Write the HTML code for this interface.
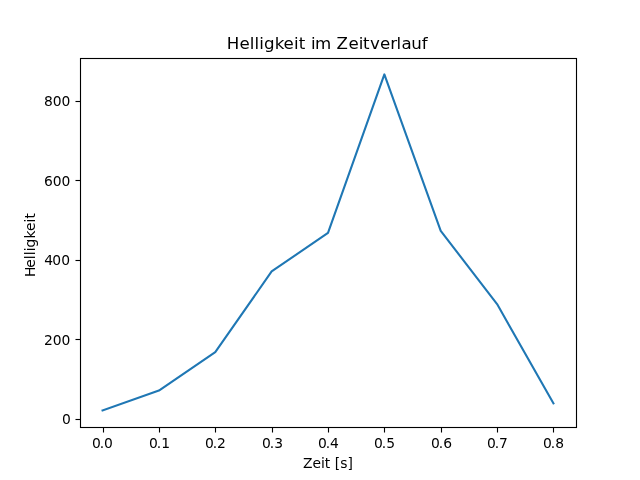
<!DOCTYPE html>
<html lang="de"><head><meta charset="utf-8"><title>Helligkeit im Zeitverlauf</title>
<style>
html,body{margin:0;padding:0;background:#fff;overflow:hidden}
svg{display:block}
text{font-family:"DejaVu Sans","Liberation Sans",sans-serif;fill:#000}
.t{font-size:13.889px}
.u{font-size:14px}
.h{font-size:16.667px}
</style></head><body>
<svg width="640" height="480" viewBox="0 0 640 480">
<rect width="640" height="480" fill="#fff"/>
<polyline points="102.55,410.40 158.91,390.56 215.27,352.18 271.64,271.45 328.00,232.88 384.36,74.40 440.73,230.89 497.09,304.06 553.45,403.40" fill="none" stroke="#1f77b4" stroke-width="2.083" stroke-linejoin="round" stroke-linecap="square"/>
<g fill="#000" fill-opacity="0.0549">
<rect x="79" y="58" width="3" height="370"/><rect x="575" y="58" width="3" height="370"/>
<rect x="80" y="57" width="497" height="3"/><rect x="80" y="426" width="497" height="3"/>
<rect x="102" y="428" width="3" height="4.5"/>
<rect x="158" y="428" width="3" height="4.5"/>
<rect x="214" y="428" width="3" height="4.5"/>
<rect x="271" y="428" width="3" height="4.5"/>
<rect x="327" y="428" width="3" height="4.5"/>
<rect x="383" y="428" width="3" height="4.5"/>
<rect x="440" y="428" width="3" height="4.5"/>
<rect x="496" y="428" width="3" height="4.5"/>
<rect x="552" y="428" width="3" height="4.5"/>
<rect x="75.5" y="418" width="4.5" height="3"/>
<rect x="75.5" y="338" width="4.5" height="3"/>
<rect x="75.5" y="259" width="4.5" height="3"/>
<rect x="75.5" y="179" width="4.5" height="3"/>
<rect x="75.5" y="100" width="4.5" height="3"/>
</g>
<g fill="#000">
<rect x="80" y="58" width="1" height="370"/><rect x="576" y="58" width="1" height="370"/>
<rect x="80" y="58" width="497" height="1"/><rect x="80" y="427" width="497" height="1"/>
<rect x="103" y="428" width="1" height="4.5"/>
<rect x="159" y="428" width="1" height="4.5"/>
<rect x="215" y="428" width="1" height="4.5"/>
<rect x="272" y="428" width="1" height="4.5"/>
<rect x="328" y="428" width="1" height="4.5"/>
<rect x="384" y="428" width="1" height="4.5"/>
<rect x="441" y="428" width="1" height="4.5"/>
<rect x="497" y="428" width="1" height="4.5"/>
<rect x="553" y="428" width="1" height="4.5"/>
<rect x="75.5" y="419" width="4.5" height="1"/>
<rect x="75.5" y="339" width="4.5" height="1"/>
<rect x="75.5" y="260" width="4.5" height="1"/>
<rect x="75.5" y="180" width="4.5" height="1"/>
<rect x="75.5" y="101" width="4.5" height="1"/>
</g>
<text class="t" x="91.881 99.693 103.99" y="447.5">0.0</text>
<text class="t" x="148.995 156.682 161.229" y="447.5">0.1</text>
<text class="t" x="204.984 212.671 216.968" y="447.5">0.2</text>
<text class="t" x="261.972 269.659 274.206" y="447.5">0.3</text>
<text class="t" x="317.961 325.773 329.945" y="447.5">0.4</text>
<text class="t" x="373.95 381.637 386.184" y="447.5">0.5</text>
<text class="t" x="430.938 438.625 443.172" y="447.5">0.6</text>
<text class="t" x="486.927 494.864 498.911" y="447.5">0.7</text>
<text class="t" x="542.916 550.728 555.15" y="447.5">0.8</text>
<text class="t" x="61.947" y="423.99">0</text>
<text class="t" x="43.916 52.728 61.556" y="344.95">200</text>
<text class="t" x="44.166 52.328 61.306" y="264.92">400</text>
<text class="t" x="43.916 52.728 61.556" y="185.88">600</text>
<text class="t" x="43.916 52.728 61.556" y="105.84">800</text>
<text class="u" transform="translate(328 467.5) scale(0.9921 1)" x="-25.133 -15.555 -7.18 -3.289 2.445 6.898 12.352 19.648" y="0">Zeit [s]</text>
<text class="u" transform="translate(34.5 245.5) rotate(-90) scale(0.9921 1)" x="-31.773 -22.508 -13.883 -9.883 -5.742 -2.102 7.039 14.648 23.258 27.148" y="0">Helligkeit</text>
<text class="h" x="226.72 239.54 249.69 254.41 259.34 264.06 274.64 283.39 293.94 298.81 305.59 310.89 315.12 331.75 336.55 348.45 358.7 362.93 370.06 379.92 390.17 396.51 401.44 411.24 421.8" y="49">Helligkeit im Zeitverlauf</text>
</svg></body></html>
